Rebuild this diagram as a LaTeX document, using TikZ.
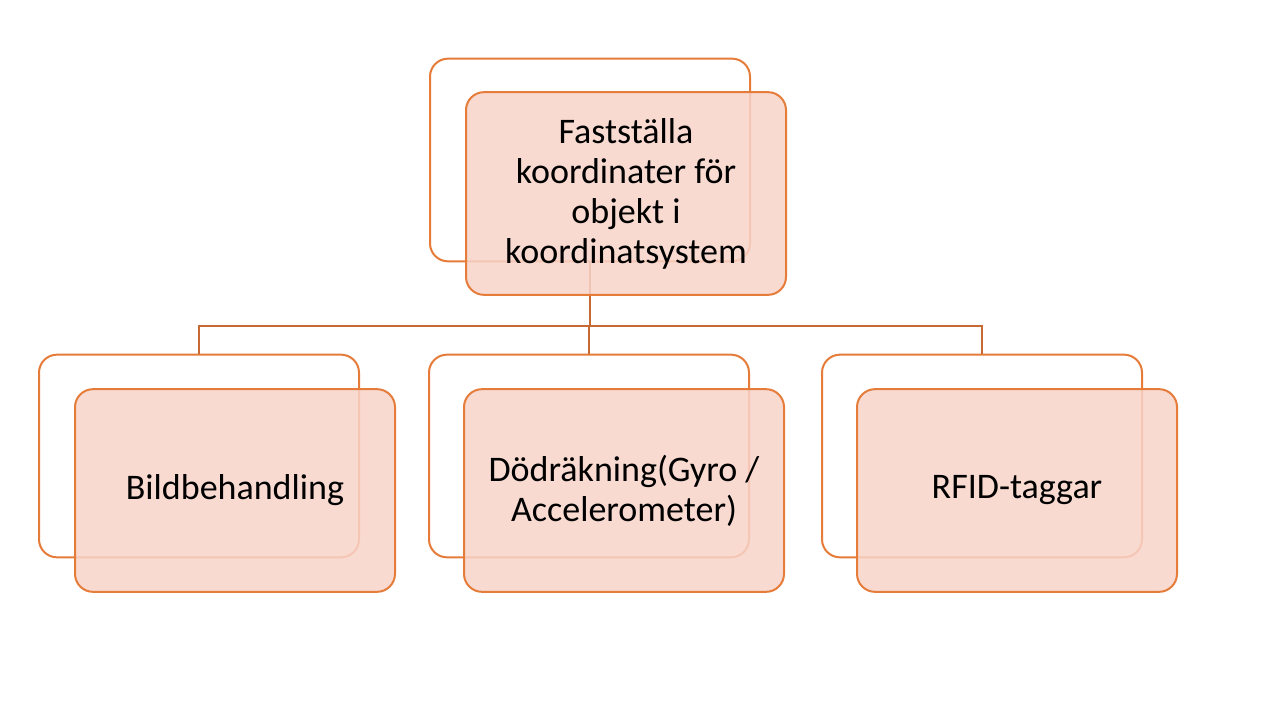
\documentclass[tikz,border=0pt]{standalone}
\usepackage{fontspec}
\setmainfont{Carlito}
\definecolor{boxline}{RGB}{230,124,58}
\definecolor{boxfill}{RGB}{247,212,201}
\definecolor{connline}{RGB}{200,105,52}
\begin{document}
\begin{tikzpicture}[x=0.75pt,y=-0.75pt,
  backbox/.style={draw=boxline,line width=1.5pt,rounded corners=13.5pt,fill=white,
    minimum width=240pt,minimum height=152pt,inner sep=0pt},
  frontbox/.style={draw=boxline,line width=1.5pt,rounded corners=13.5pt,fill=boxfill,fill opacity=0.85,text opacity=1,
    minimum width=240pt,minimum height=152pt,inner sep=0pt,align=center,
    font=\fontsize{27}{30}\selectfont},
  conn/.style={draw=connline,line width=1.5pt}]
\useasboundingbox[fill=white] (0,0) rectangle (1284,709);
% back boxes
\node[backbox] (tb) at (590,160) {};
\node[backbox] (lb) at (199,456) {};
\node[backbox] (mb) at (589,456) {};
\node[backbox] (rb) at (982,456) {};
% connectors
\coordinate (bus) at (590,326);
\draw[conn] (tb.south) -- (bus);
\draw[conn] (bus) -| (lb.north);
\draw[conn] (bus) -| (rb.north);
\draw[conn] (bus) -| (mb.north);
% front boxes
\node[frontbox] (tf) at (626,193.5) {Fastställa\\ koordinater för\\objekt i\\koordinatsystem};
\node[frontbox] (lf) at (235,490.5) {Bildbehandling};
\node[frontbox] (mf) at (624,490.5) {Dödräkning(Gyro /\\Accelerometer)};
\node[frontbox] (rf) at (1017,490.5) {RFID-taggar};
\end{tikzpicture}
\end{document}
